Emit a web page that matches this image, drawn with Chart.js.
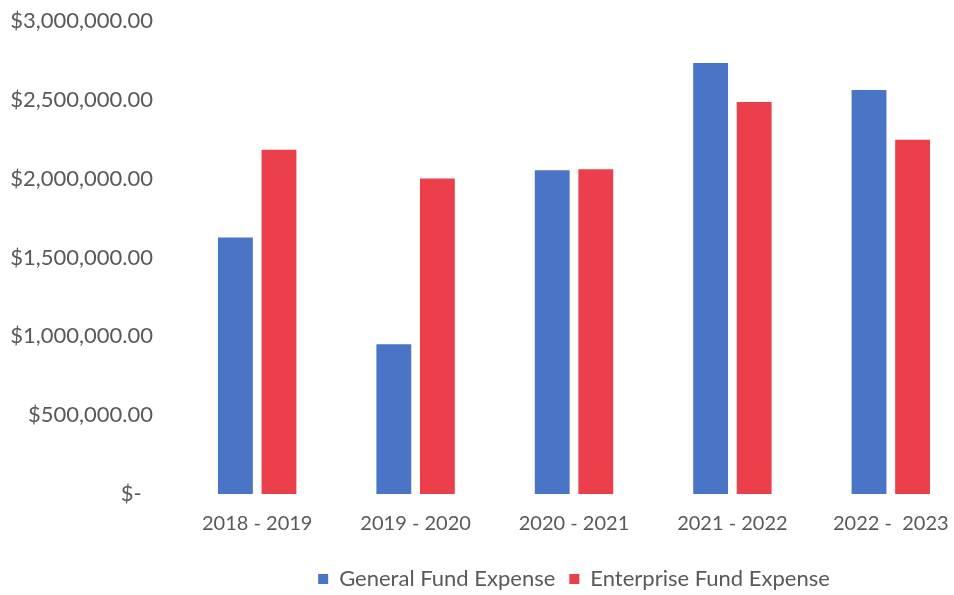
<!DOCTYPE html>
<html>
<head>
<meta charset="utf-8">
<script src="https://cdn.jsdelivr.net/npm/chart.js@4/dist/chart.umd.min.js"></script>
<style>
  html, body { margin: 0; padding: 0; background: #fff; overflow: hidden; }
  #wrap { position: relative; width: 975px; height: 621px; margin-top: -17px; }
</style>
</head>
<body>
<div id="wrap"><canvas id="chart"></canvas></div>
<script>
var years = ['2018 - 2019', '2019 - 2020', '2020 - 2021', '2021 - 2022', '2022 -  2023'];
var generalFund = [1628000, 950000, 2055000, 2735000, 2563000];
var enterpriseFund = [2184000, 2002000, 2060000, 2487000, 2247000];
var yTicks = [0, 500000, 1000000, 1500000, 2000000, 2500000, 3000000];

var textColor = '#595959';
var fontFamily = 'Lato, "Open Sans", sans-serif';

function money(v) {
    if (v === 0) return '$-  ';
    return '$' + v.toLocaleString('en-US', { minimumFractionDigits: 2, maximumFractionDigits: 2 });
}

new Chart(document.getElementById('chart'), {
    type: 'bar',
    data: {
        labels: years,
        datasets: [{
            label: 'General Fund Expense',
            data: generalFund,
            backgroundColor: '#4a74c6',
            barPercentage: 0.8,
            categoryPercentage: 0.55
        }, {
            label: 'Enterprise Fund Expense',
            data: enterpriseFund,
            backgroundColor: '#ec3f4c',
            barPercentage: 0.8,
            categoryPercentage: 0.55
        }]
    },
    options: {
        responsive: true,
        maintainAspectRatio: false,
        animation: false,
        layout: { padding: { top: 8, right: 5, left: 0, bottom: 4 } },
        plugins: {
            tooltip: { enabled: false },
            legend: {
                position: 'bottom',
                fullSize: false,
                labels: {
                    color: textColor,
                    font: { family: fontFamily, size: 22 },
                    boxWidth: 10,
                    boxHeight: 10,
                    padding: 14
                }
            }
        },
        scales: {
            x: {
                grid: { display: false, drawTicks: false },
                border: { display: false },
                ticks: {
                    color: textColor,
                    font: { family: fontFamily, size: 20 },
                    padding: 18,
                    maxRotation: 0
                }
            },
            y: {
                min: 0,
                max: 3000000,
                afterBuildTicks: function(scale) {
                    scale.ticks = yTicks.map(function(v) { return { value: v }; });
                },
                afterFit: function(scale) { scale.width = 178; },
                grid: { display: false, drawTicks: false },
                border: { display: false },
                ticks: {
                    color: textColor,
                    font: { family: fontFamily, size: 22 },
                    padding: 25,
                    callback: function(v) { return money(v); }
                }
            }
        }
    }
});
</script>
</body>
</html>
